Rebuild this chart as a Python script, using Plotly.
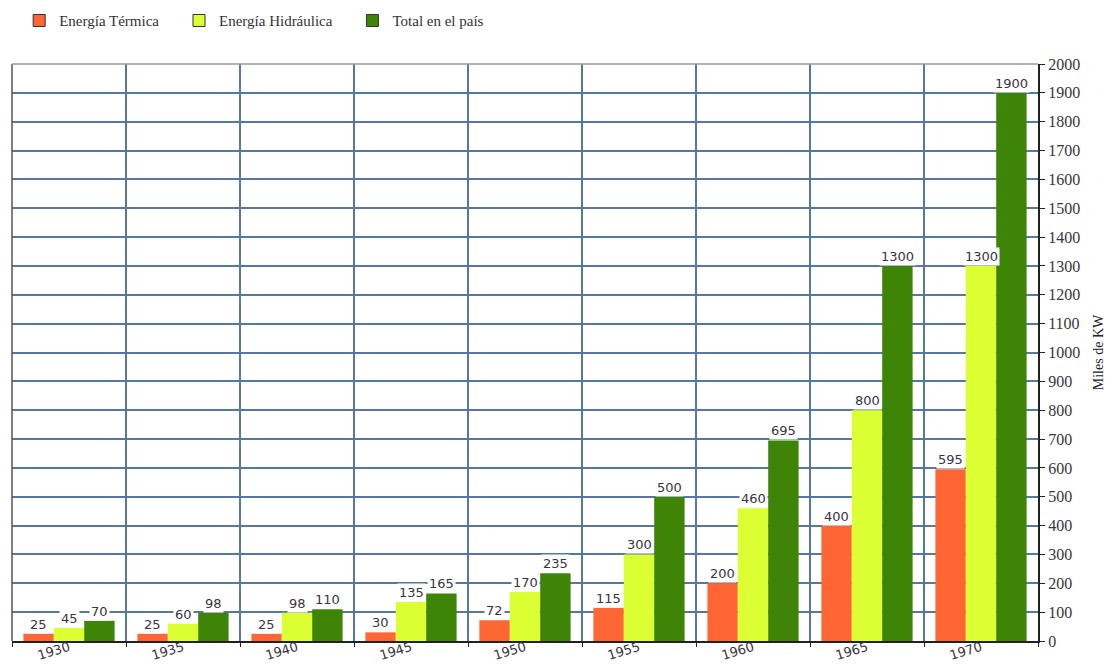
import plotly.graph_objects as go

# Installed capacity by year (thousands of kW)
years = ["1930", "1935", "1940", "1945", "1950", "1955", "1960", "1965", "1970"]
termica = [25, 25, 25, 30, 72, 115, 200, 400, 595]
hidraulica = [45, 60, 98, 135, 170, 300, 460, 800, 1300]
total = [70, 98, 110, 165, 235, 500, 695, 1300, 1900]

series = [
    ("Energía Térmica", termica, "#ff6633"),
    ("Energía Hidráulica", hidraulica, "#dcff33"),
    ("Total en el país", total, "#3e8507"),
]

fig = go.Figure()
for name, vals, color in series:
    fig.add_trace(go.Bar(
        x=years, y=vals, name=name, showlegend=False,
        marker=dict(color=color, line=dict(width=0)),
    ))

# Legend entries with outlined square swatches (non-breaking spaces widen the gap)
pad = "\u00a0" * 4
for name, vals, color in series:
    fig.add_trace(go.Scatter(
        x=[None], y=[None], mode="markers", name=name + pad,
        marker=dict(symbol="square", size=12, color=color,
                    line=dict(color="#333", width=1)),
    ))

# Value labels on white boxes above each bar (x given as category index)
shifts = [-30.5, 0, 30.5]
annotations = []
for (name, vals, color), dx in zip(series, shifts):
    for i, v in enumerate(vals):
        annotations.append(dict(
            x=i, y=v, xref="x", yref="y", text=str(v),
            showarrow=False, xshift=dx, yanchor="bottom", yshift=0,
            bgcolor="white", borderpad=1,
            font=dict(family="DejaVu Sans", size=13, color="#3a3440"),
        ))

grid = "#56789f"
fig.update_layout(
    width=1106, height=664,
    margin=dict(l=12, r=68, t=64, b=23, autoexpand=False),
    paper_bgcolor="white", plot_bgcolor="white",
    barmode="group", bargap=0.2, bargroupgap=0,
    annotations=annotations,
    showlegend=True,
    legend=dict(
        orientation="h", x=0.007, xanchor="left", y=1.075, yanchor="middle",
        font=dict(family="Liberation Serif", size=15, color="#333"),
        bgcolor="rgba(0,0,0,0)",
    ),
    xaxis=dict(
        type="category", categoryorder="array", categoryarray=years,
        range=[-0.5, len(years) - 0.5], tickson="boundaries",
        showgrid=True, gridcolor=grid, gridwidth=1.5,
        showline=True, linecolor="#222", linewidth=2, mirror=False,
        ticks="outside", ticklen=4, tickcolor="#222",
        tickangle=-17, automargin=False, ticklabelstandoff=-8,
        tickfont=dict(family="DejaVu Sans", size=13, color="#3a3440"),
    ),
    yaxis=dict(
        side="right", range=[0, 2000], dtick=100,
        showgrid=True, gridcolor=grid, gridwidth=1.5,
        showline=True, linecolor="#222", linewidth=2,
        ticks="outside", ticklen=5, tickcolor="#222", automargin=False,
        tickfont=dict(family="Liberation Serif", size=16, color="#3a3440"),
        title=dict(text="Miles de KW", standoff=16,
                   font=dict(family="Liberation Serif", size=14, color="#222")),
        zeroline=False,
    ),
)

# Frame on the left and top of the plot area
fig.add_shape(type="line", xref="paper", yref="paper", x0=0, x1=0, y0=0, y1=1,
              line=dict(color="#555", width=1.5))
fig.add_shape(type="line", xref="paper", yref="paper", x0=0, x1=1, y0=1, y1=1,
              line=dict(color="#999", width=1.5))

fig.write_html("out.html")
